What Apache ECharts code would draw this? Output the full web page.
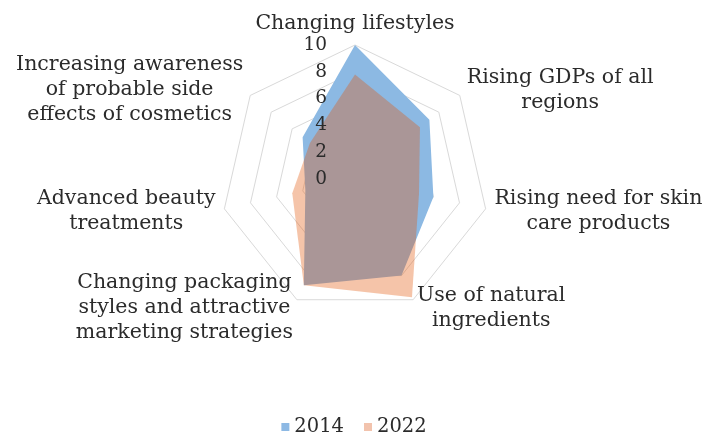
<!DOCTYPE html>
<html>
<head>
<meta charset="utf-8">
<script src="https://cdn.jsdelivr.net/npm/echarts@6/dist/echarts.min.js"></script>
<style>
  html, body { margin: 0; padding: 0; background: #ffffff; }
  #chart { width: 708px; height: 440px; }
</style>
</head>
<body>
<div id="chart"></div>
<script>
// Drivers of the cosmetics market, scored 0-10, listed clockwise from the top
const categories = [
  'Changing lifestyles',
  'Rising GDPs of all\nregions',
  'Rising need for skin\ncare products',
  'Use of natural\ningredients',
  'Changing packaging\nstyles and attractive\nmarketing strategies',
  'Advanced beauty\ntreatments',
  'Increasing awareness\nof probable side\neffects of cosmetics'
];
const values2014 = [10, 7.1, 6.0, 8.0, 8.8, 3.8, 5.0];
const values2022 = [7.8, 6.2, 4.9, 9.8, 8.8, 4.8, 4.3];
const seriesNames = ['2014', '2022'];
const scaleMin = 0;
const scaleMax = 10;
const scaleStep = 2;

const FONT = 'DejaVu Serif';
const TEXT = '#2b2b2b';

// ECharts lays radar indicators out counter-clockwise; keep the first one on top
// and walk the rest backwards so they run clockwise.
const order = [0].concat(categories.slice(1).map((_, i) => categories.length - 1 - i));
const reorder = arr => order.map(i => arr[i]);

const chart = echarts.init(document.getElementById('chart'), null, { renderer: 'canvas' });

chart.setOption({
  backgroundColor: '#ffffff',
  animation: false,
  legend: {
    top: 417,
    left: 'center',
    padding: 0,
    icon: 'rect',
    itemWidth: 8,
    itemHeight: 8,
    itemGap: 20,
    textStyle: { fontFamily: FONT, fontSize: 19.5, color: TEXT },
    data: [
      { name: seriesNames[0], itemStyle: { color: '#8db9e4' } },
      { name: seriesNames[1], itemStyle: { color: '#f2c3ad' } }
    ]
  },
  radar: {
    center: [355, 179],
    radius: 134,
    startAngle: 90,
    shape: 'polygon',
    splitNumber: 5,
    nameGap: 9,
    indicator: reorder(categories).map(name => ({ name: name, min: scaleMin, max: scaleMax })),
    axisName: {
      color: TEXT,
      fontFamily: FONT,
      fontSize: 20.5,
      formatter: name => name.split('\n').map(line => '{c|' + line + '}').join('\n'),
      rich: {
        c: { align: 'center', fontFamily: FONT, fontSize: 20.5, lineHeight: 25, color: TEXT }
      }
    },
    axisLine: { show: false },
    axisTick: { show: false },
    axisLabel: { show: false },
    splitLine: { lineStyle: { color: '#d9d9d9', width: 1 } },
    splitArea: { show: false }
  },
  // Value scale printed along the top spoke, above the filled areas
  polar: { center: [355, 179], radius: 134 },
  angleAxis: { show: false, type: 'value', min: 0, max: 360, startAngle: 90 },
  radiusAxis: {
    type: 'value',
    z: 10,
    min: scaleMin,
    max: scaleMax,
    interval: scaleStep,
    axisLine: { show: false },
    axisTick: { show: false },
    splitLine: { show: false },
    axisLabel: { margin: 28, fontFamily: FONT, fontSize: 18.5, color: TEXT }
  },
  series: [{
    type: 'radar',
    symbol: 'none',
    data: [
      {
        name: seriesNames[0],
        value: reorder(values2014),
        itemStyle: { color: '#8db9e4' },
        lineStyle: { width: 0, opacity: 0 },
        areaStyle: { color: '#8cb9e3', opacity: 1 }
      },
      {
        name: seriesNames[1],
        value: reorder(values2022),
        itemStyle: { color: '#f2c3ad' },
        lineStyle: { width: 0, opacity: 0 },
        areaStyle: { color: '#e1550a', opacity: 0.35 }
      }
    ]
  }]
});
</script>
</body>
</html>
